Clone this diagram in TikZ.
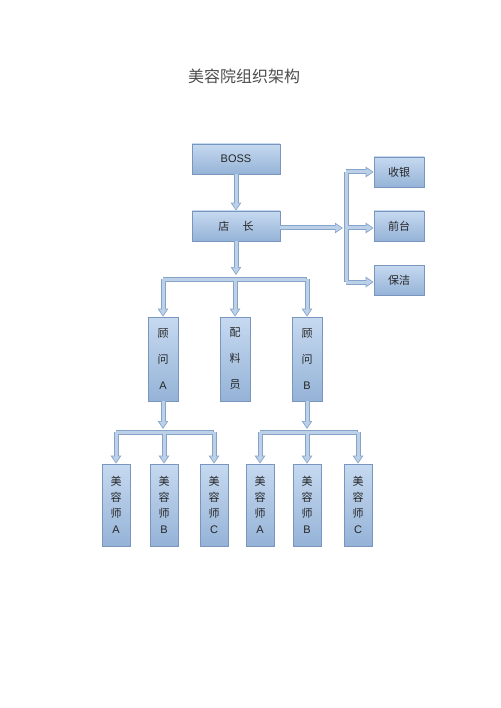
\documentclass[tikz,border=0pt]{standalone}
\usepackage{fontspec}
\setmainfont{Liberation Sans}
\newfontfamily\cjk{Noto Sans CJK SC}
\usetikzlibrary{arrows.meta}
\usepackage{xcolor}
\definecolor{boxtop}{HTML}{C6D9F0}
\definecolor{boxbot}{HTML}{95B3D7}
\definecolor{boxline}{HTML}{7896BE}
\definecolor{pipefill}{HTML}{BCD0E8}
\definecolor{pipeline}{HTML}{86A4CA}

\begin{document}
\begin{tikzpicture}[x=1pt, y=-1pt,
  unit/.style={draw=boxline, line width=0.6pt, top color=boxtop, bottom color=boxbot,
    inner sep=0pt, align=center, text=black!85, font=\cjk\fontsize{11}{13}\selectfont},
  wide/.style={unit, minimum width=88pt, minimum height=30pt},
  small/.style={unit, minimum width=50pt, minimum height=30pt},
  tall/.style={unit, minimum width=30pt, minimum height=84pt, font=\cjk\fontsize{11}{26}\selectfont},
  slim/.style={unit, minimum width=28pt, minimum height=82pt, font=\cjk\fontsize{11}{16}\selectfont},
  pipeout/.style={line width=5pt, draw=pipeline, -{Triangle[length=8pt,width=10pt]}},
  pipein/.style={line width=3pt, draw=pipefill, -{Triangle[length=6pt,width=7pt]}, shorten >=1.3pt}]
  \useasboundingbox (0,0) rectangle (500,708);
  % title
  \node[font=\cjk\fontsize{16}{18}\selectfont, text=black!70] (title) at (244,76) {美容院组织架构};
  % top levels
  \node[wide] (boss) at (236,159) {\textrm{BOSS}};
  \node[wide] (dz) at (236,226) {店\hspace{1.2em}长};
  \node[small] (sy) at (399,172) {收银};
  \node[small] (qt) at (399,226) {前台};
  \node[small] (bj) at (399,280) {保洁};
  % consultants
  \node[tall] (gwa) at (163,359) {顾\\问\\\textrm{A}};
  \node[tall] (pl) at (235,359) {配\\料\\员};
  \node[tall] (gwb) at (307,359) {顾\\问\\\textrm{B}};
  % beauticians
  \node[slim] (ma) at (116,505) {美\\容\\师\\\textrm{A}};
  \node[slim] (mb) at (164,505) {美\\容\\师\\\textrm{B}};
  \node[slim] (mc) at (214,505) {美\\容\\师\\\textrm{C}};
  \node[slim] (md) at (260,505) {美\\容\\师\\\textrm{A}};
  \node[slim] (me) at (307,505) {美\\容\\师\\\textrm{B}};
  \node[slim] (mf) at (358,505) {美\\容\\师\\\textrm{C}};
  % bus points
  \coordinate (midin) at (236,275);
  \coordinate (midl) at (163,279);
  \coordinate (midr) at (307,279);
  \coordinate (rin) at (343,228);
  \coordinate (rtop) at (346,172);
  \coordinate (rbot) at (346,282);
  \coordinate (lin) at (163,429);
  \coordinate (ll) at (116,432);
  \coordinate (lr) at (214,432);
  \coordinate (bin) at (307,429);
  \coordinate (bl) at (260,432);
  \coordinate (br) at (358,432);
  % connectors, outline first then fill
  \foreach \layer in {pipeout,pipein}{
    \draw[\layer] (boss.south) -- (dz.north);
    \draw[\layer] (dz.south) -- (midin);
    \draw[\layer, -] (midl) -- (midr);
    \draw[\layer] (midl) -- (gwa.north);
    \draw[\layer] (pl.north |- midl) -- (pl.north);
    \draw[\layer] (midr) -- (gwb.north);
    \draw[\layer] (dz.east |- rin) -- (rin);
    \draw[\layer, -] (rtop) -- (rbot);
    \draw[\layer] (rtop) -- (sy.west);
    \draw[\layer] (rin -| rtop) -- (qt.west |- rin);
    \draw[\layer] (rbot) -- (bj.west |- rbot);
    \draw[\layer] (gwa.south) -- (lin);
    \draw[\layer, -] (ll) -- (lr);
    \draw[\layer] (ll) -- (ma.north);
    \draw[\layer] (ll -| mb) -- (mb.north);
    \draw[\layer] (lr) -- (mc.north);
    \draw[\layer] (gwb.south) -- (bin);
    \draw[\layer, -] (bl) -- (br);
    \draw[\layer] (bl) -- (md.north);
    \draw[\layer] (bl -| me) -- (me.north);
    \draw[\layer] (br) -- (mf.north);
  }
\end{tikzpicture}
\end{document}
